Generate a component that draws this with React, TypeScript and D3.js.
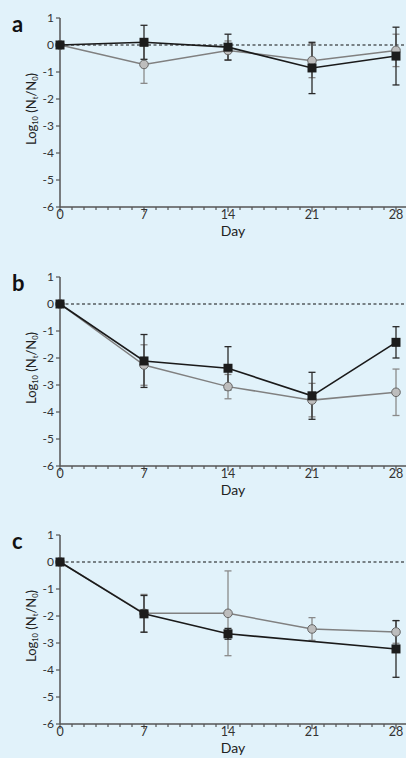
import { useEffect, useRef } from 'react';
import * as d3 from 'd3';

const days = [0, 7, 14, 21, 28];
const yTicks = [1, 0, -1, -2, -3, -4, -5, -6];
const panelNames = ['a', 'b', 'c'];

// grey circles
const grayA = [0, -0.72, -0.2, -0.58, -0.2];
const grayErrA = [0, 0.7, 0.35, 0.63, 0.6];
const grayB = [0, -2.26, -3.06, -3.56, -3.27];
const grayErrB = [0, 0.75, 0.45, 0.62, 0.86];
const grayC = [0, -1.9, -1.9, -2.48, -2.59];
const grayErrC = [0, 0.7, 1.57, 0.42, 0.42];

// black squares
const blackA = [0, 0.1, -0.08, -0.85, -0.41];
const blackErrA = [0, 0.63, 0.48, 0.95, 1.07];
const blackB = [0, -2.11, -2.38, -3.4, -1.42];
const blackErrB = [0, 0.98, 0.8, 0.87, 0.58];
const blackC = [0, -1.92, -2.66, null, -3.22];
const blackErrC = [0, 0.68, 0.2, null, 1.05];

const panelTops = [18, 277, 535];

type Pt = { day: number; v: number; e: number };

function toPoints(vals: (number | null)[], errs: (number | null)[]): Pt[] {
    const out: Pt[] = [];
    vals.forEach((v, i) => {
        if (v === null) return;
        out.push({ day: days[i], v: v, e: errs[i] ?? 0 });
    });
    return out;
}

const panels = [
    { gray: toPoints(grayA, grayErrA), black: toPoints(blackA, blackErrA) },
    { gray: toPoints(grayB, grayErrB), black: toPoints(blackB, blackErrB) },
    { gray: toPoints(grayC, grayErrC), black: toPoints(blackC, blackErrC) },
];

const FONT = 'Lato, "DejaVu Sans", sans-serif';

export default function App() {
    const svgRef = useRef<SVGSVGElement | null>(null);

    useEffect(() => {
        document.body.style.margin = '0';
        if (!svgRef.current) return;
        const svg = d3.select(svgRef.current);
        svg.selectAll('*').remove();

        const width = 406;
        const height = 758;

        svg.append('rect')
            .attr('width', width)
            .attr('height', height)
            .attr('fill', '#e1f2fa');

        const x = d3.scaleLinear().domain([0, 28]).range([60, 396]);
        const axisColor = '#555';

        panels.forEach((p, pi) => {
            const top = panelTops[pi];
            const y = d3.scaleLinear().domain([-6, 1]).range([top + 189, top]);
            const g = svg.append('g');
            const bottom = y(-6);

            // panel letter
            g.append('text')
                .attr('x', 12)
                .attr('y', top + 13.5)
                .attr('font-family', FONT)
                .attr('font-weight', 'bold')
                .attr('font-size', 22)
                .attr('fill', '#111')
                .text(panelNames[pi]);

            // zero dashed line
            g.append('line')
                .attr('x1', x(0))
                .attr('x2', width)
                .attr('y1', y(0))
                .attr('y2', y(0))
                .attr('stroke', '#111')
                .attr('stroke-width', 1.2)
                .attr('stroke-dasharray', '3,2.5');

            // y axis
            g.append('line')
                .attr('x1', x(0)).attr('x2', x(0))
                .attr('y1', y(1)).attr('y2', bottom)
                .attr('stroke', axisColor).attr('stroke-width', 1.5);
            yTicks.forEach(t => {
                g.append('line')
                    .attr('x1', x(0) - 4).attr('x2', x(0))
                    .attr('y1', y(t)).attr('y2', y(t))
                    .attr('stroke', axisColor).attr('stroke-width', 1.2);
                g.append('text')
                    .attr('x', x(0) - 6)
                    .attr('y', y(t))
                    .attr('dy', '0.35em')
                    .attr('text-anchor', 'end')
                    .attr('font-family', FONT)
                    .attr('font-size', 12)
                    .attr('fill', '#333')
                    .text(String(t));
            });

            // x axis
            g.append('line')
                .attr('x1', x(0)).attr('x2', width)
                .attr('y1', bottom).attr('y2', bottom)
                .attr('stroke', axisColor).attr('stroke-width', 1.5);
            d3.range(0, 29).forEach(d => {
                const major = d % 7 === 0;
                g.append('line')
                    .attr('x1', x(d)).attr('x2', x(d))
                    .attr('y1', bottom).attr('y2', bottom + (major ? 5 : 3))
                    .attr('stroke', axisColor).attr('stroke-width', 1.2);
            });
            days.forEach(d => {
                g.append('text')
                    .attr('x', x(d))
                    .attr('y', bottom + 12)
                    .attr('text-anchor', 'middle')
                    .attr('font-family', FONT)
                    .attr('font-size', 12.5)
                    .attr('fill', '#333')
                    .text(String(d));
            });
            g.append('text')
                .attr('x', (x(0) + x(28)) / 2 + 5)
                .attr('y', bottom + 29)
                .attr('text-anchor', 'middle')
                .attr('font-family', FONT)
                .attr('font-size', 14)
                .attr('fill', '#222')
                .text('Day');

            // y label
            const lab = g.append('text')
                .attr('transform', `translate(36,${top + 91}) rotate(-90)`)
                .attr('text-anchor', 'middle')
                .attr('font-family', FONT)
                .attr('font-size', 13)
                .attr('fill', '#222');
            lab.append('tspan').text('Log');
            lab.append('tspan').attr('font-size', 7.5).attr('dy', 2).text('10');
            lab.append('tspan').attr('dy', -2).text(' (N');
            lab.append('tspan').attr('font-size', 7.5).attr('dy', 2).text('t');
            lab.append('tspan').attr('dy', -2).text('/N');
            lab.append('tspan').attr('font-size', 7.5).attr('dy', 2).text('0');
            lab.append('tspan').attr('dy', -2).text(')');

            const line = d3.line<Pt>().x(d => x(d.day)).y(d => y(d.v));

            const errBars = (pts: Pt[], color: string) => {
                pts.filter(d => d.e > 0).forEach(d => {
                    const cx = x(d.day);
                    g.append('line')
                        .attr('x1', cx).attr('x2', cx)
                        .attr('y1', y(d.v + d.e)).attr('y2', y(d.v - d.e))
                        .attr('stroke', color).attr('stroke-width', 1.3);
                    [d.v + d.e, d.v - d.e].forEach(v => {
                        g.append('line')
                            .attr('x1', cx - 3.5).attr('x2', cx + 3.5)
                            .attr('y1', y(v)).attr('y2', y(v))
                            .attr('stroke', color).attr('stroke-width', 1.3);
                    });
                });
            };

            errBars(p.gray, '#8a8a8a');
            errBars(p.black, '#2a2a2a');

            g.append('path')
                .datum(p.gray)
                .attr('d', line)
                .attr('fill', 'none')
                .attr('stroke', '#808080')
                .attr('stroke-width', 1.5);

            g.selectAll('circle.g')
                .data(p.gray)
                .enter()
                .append('circle')
                .attr('cx', d => x(d.day))
                .attr('cy', d => y(d.v))
                .attr('r', 4.3)
                .attr('fill', '#bdbdbd')
                .attr('stroke', '#666')
                .attr('stroke-width', 1);

            g.append('path')
                .datum(p.black)
                .attr('d', line)
                .attr('fill', 'none')
                .attr('stroke', '#1a1a1a')
                .attr('stroke-width', 1.6);

            g.selectAll('rect.b')
                .data(p.black)
                .enter()
                .append('rect')
                .attr('x', d => x(d.day) - 4.5)
                .attr('y', d => y(d.v) - 4.5)
                .attr('width', 9)
                .attr('height', 9)
                .attr('fill', '#1c1c1c');
        });
    }, []);

    return <svg ref={svgRef} width={406} height={758} style={{ display: 'block' }}></svg>;
}
